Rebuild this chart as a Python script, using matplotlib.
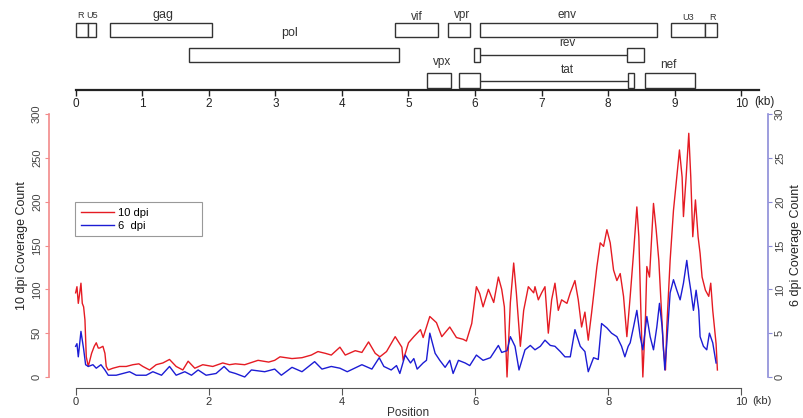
import matplotlib.pyplot as plt
from matplotlib.transforms import blended_transform_factory

plt.rcParams['font.family'] = ['Liberation Sans', 'DejaVu Sans']

red = '#e51b23'
blue = '#1c1cd4'
ink = '#333333'

# genome map: (label, row, exon starts, exon ends) in kb
gene_names = ['R', 'U5', 'gag', 'vif', 'vpr', 'env', 'U3', 'R',
              'pol', 'rev', 'vpx', 'tat', 'nef']
gene_rows = [1, 1, 1, 1, 1, 1, 1, 1, 2, 2, 3, 3, 3]
gene_starts = [[0.00], [0.18], [0.52], [4.80], [5.60], [6.07], [8.95], [9.46],
               [1.70], [5.99, 8.28], [5.28], [5.76, 8.29], [8.55]]
gene_ends = [[0.18], [0.30], [2.05], [5.45], [5.92], [8.73], [9.46], [9.64],
             [4.86], [6.07, 8.54], [5.64], [6.07, 8.39], [9.30]]
label_x = [0.07, 0.25, 1.31, 5.12, 5.80, 7.38, 9.20, 9.56,
           3.22, 7.38, 5.50, 7.38, 8.90]
label_y = [16, 16, 15, 17, 15, 15, 17, 17, 33, 43, 62, 70, 65]
label_size = [6.5, 6.5, 9, 8.5, 8.5, 8.5, 6.5, 6.5, 9, 8.5, 8.5, 8.5, 8.5]

# coverage, 10 dpi (left axis)
pos_10 = [0.00, 0.02, 0.04, 0.06, 0.08, 0.10, 0.12, 0.14, 0.16, 0.19, 0.24, 0.28,
          0.31, 0.34, 0.36, 0.41, 0.44, 0.46, 0.49, 0.56, 0.66, 0.76, 0.86, 0.95,
          1.01, 1.11, 1.21, 1.31, 1.41, 1.51, 1.61, 1.69, 1.79, 1.91, 2.06, 2.21,
          2.31, 2.40, 2.54, 2.74, 2.90, 2.99, 3.07, 3.25, 3.40, 3.54, 3.64, 3.75,
          3.84, 3.97, 4.05, 4.20, 4.30, 4.40, 4.50, 4.57, 4.67, 4.80, 4.85, 4.90,
          4.92, 5.00, 5.08, 5.18, 5.22, 5.32, 5.42, 5.50, 5.62, 5.72, 5.82, 5.87,
          5.95, 6.02, 6.07, 6.12, 6.20, 6.28, 6.35, 6.40, 6.44, 6.48, 6.53, 6.58,
          6.62, 6.68, 6.73, 6.80, 6.88, 6.90, 6.95, 7.00, 7.05, 7.10, 7.15, 7.20,
          7.25, 7.30, 7.38, 7.43, 7.50, 7.55, 7.60, 7.65, 7.70, 7.75, 7.83, 7.88,
          7.93, 7.98, 8.03, 8.08, 8.13, 8.18, 8.23, 8.28, 8.33, 8.38, 8.43, 8.46,
          8.49, 8.52, 8.56, 8.58, 8.62, 8.68, 8.72, 8.76, 8.81, 8.83, 8.86, 8.88,
          8.93, 8.98, 9.03, 9.07, 9.11, 9.13, 9.17, 9.21, 9.24, 9.27, 9.31, 9.35,
          9.38, 9.41, 9.46, 9.51, 9.54, 9.57, 9.62, 9.64]
cov_10 = [96, 103, 84, 95, 107, 84, 80, 65, 23, 12, 27, 35,
          39, 33, 33, 35, 27, 12, 8, 10, 12, 12, 14, 15,
          12, 8, 14, 16, 20, 12, 8, 18, 10, 14, 12, 16,
          14, 15, 14, 19, 17, 19, 23, 21, 22, 25, 29, 27,
          25, 34, 25, 30, 28, 40, 27, 23, 29, 46, 40, 34,
          19, 39, 46, 54, 45, 69, 62, 46, 57, 45, 43, 41,
          61, 103, 95, 80, 100, 85, 114, 100, 80, 0, 85, 130,
          96, 35, 76, 103, 96, 103, 88, 96, 103, 50, 88, 107,
          76, 88, 84, 96, 110, 88, 57, 74, 42, 73, 126, 153,
          149, 168, 153, 122, 110, 118, 92, 46, 92, 141, 194, 160,
          76, 0, 69, 126, 114, 198, 168, 133, 61, 31, 8, 57,
          133, 190, 228, 259, 228, 183, 228, 278, 228, 160, 202, 160,
          141, 114, 99, 92, 107, 76, 38, 8]

# coverage, 6 dpi (right axis)
pos_6 = [0.00, 0.02, 0.04, 0.08, 0.12, 0.15, 0.19, 0.26, 0.31, 0.38, 0.44, 0.49,
         0.61, 0.71, 0.81, 0.91, 1.06, 1.16, 1.29, 1.41, 1.51, 1.64, 1.74, 1.84,
         1.96, 2.11, 2.23, 2.31, 2.40, 2.54, 2.64, 2.84, 2.99, 3.09, 3.25, 3.40,
         3.59, 3.70, 3.84, 3.97, 4.08, 4.30, 4.45, 4.56, 4.63, 4.74, 4.82, 4.87,
         4.95, 5.03, 5.08, 5.13, 5.22, 5.27, 5.32, 5.40, 5.47, 5.55, 5.62, 5.67,
         5.75, 5.85, 5.92, 6.02, 6.12, 6.23, 6.35, 6.40, 6.48, 6.53, 6.60, 6.66,
         6.75, 6.83, 6.90, 6.98, 7.05, 7.13, 7.20, 7.28, 7.35, 7.43, 7.50, 7.58,
         7.65, 7.70, 7.78, 7.85, 7.90, 7.98, 8.05, 8.13, 8.20, 8.25, 8.30, 8.33,
         8.38, 8.43, 8.48, 8.52, 8.58, 8.63, 8.68, 8.73, 8.77, 8.81, 8.85, 8.88,
         8.93, 8.98, 9.03, 9.08, 9.13, 9.18, 9.21, 9.24, 9.28, 9.32, 9.36, 9.38,
         9.43, 9.48, 9.52, 9.57, 9.62]
cov_6 = [3.5, 3.8, 2.3, 5.2, 3.2, 1.4, 1.2, 1.4, 1.0, 1.4, 0.8, 0.2,
         0.2, 0.4, 0.6, 0.2, 0.2, 0.6, 0.2, 1.2, 0.2, 0.6, 0.2, 0.8,
         0.2, 0.4, 1.2, 0.6, 0.4, 0.0, 0.8, 0.6, 0.9, 0.2, 1.1, 0.6,
         1.75, 0.9, 1.2, 1.0, 0.6, 1.4, 0.9, 2.2, 1.2, 0.8, 1.3, 0.4,
         2.5, 1.6, 2.1, 0.9, 1.6, 1.9, 5.0, 2.7, 1.9, 1.1, 1.9, 0.4,
         1.9, 1.6, 1.3, 2.5, 1.9, 2.2, 3.6, 2.8, 3.0, 4.6, 3.5, 0.8,
         3.1, 3.6, 3.1, 3.5, 4.2, 3.6, 3.5, 2.9, 2.3, 2.3, 5.4, 3.5,
         2.9, 0.6, 2.2, 2.0, 6.1, 5.6, 5.0, 4.6, 3.5, 2.3, 3.5, 3.9,
         5.7, 7.6, 4.6, 3.1, 6.9, 4.6, 3.1, 5.7, 8.4, 5.7, 0.8, 3.9,
         9.6, 11.1, 9.9, 8.8, 10.7, 13.3, 11.4, 9.9, 7.6, 9.9, 7.6, 4.6,
         3.5, 3.1, 5.0, 3.9, 1.6]

W, H = 804, 418
fig = plt.figure(figsize=(W / 100, H / 100), dpi=100)


def axes_px(left, top, right, bottom):
    return fig.add_axes([left / W, 1 - bottom / H, (right - left) / W, (bottom - top) / H])


# ---- coverage plot ----
ax = axes_px(49, 103.5, 768, 387.5)
ax.patch.set_visible(False)
ax.set_xlim(-0.4, 10.4)
ax.set_ylim(-12, 312)
l10, = ax.plot(pos_10, cov_10, color=red, lw=1.0)

ax2 = ax.twinx()
ax2.patch.set_visible(False)
ax2.set_ylim(-1.2, 31.2)
l6, = ax2.plot(pos_6, cov_6, color=blue, lw=1.0)

for s in ['top', 'right']:
    ax.spines[s].set_visible(False)
for s in ['top', 'left', 'bottom']:
    ax2.spines[s].set_visible(False)
ax.spines['left'].set_bounds(0, 300)
ax.spines['left'].set_color('#f28a8a')
ax.spines['left'].set_linewidth(1.2)
ax.spines['bottom'].set_bounds(0, 10)
ax.spines['bottom'].set_color('#555555')
ax2.spines['right'].set_bounds(0, 30)
ax2.spines['right'].set_color('#8c8cd8')
ax2.spines['right'].set_linewidth(1.2)

ax.set_xticks([0, 2, 4, 6, 8, 10])
ax.set_xticklabels(['0', '2', '4', '6', '8', '10'])
ax.tick_params(axis='x', length=5, color='#555555', labelsize=8, labelcolor='#333333', pad=2)
ax.set_yticks(range(0, 301, 50))
ax.set_yticklabels([str(v) for v in range(0, 301, 50)], rotation=90, va='center')
ax.tick_params(axis='y', length=3, color='#f28a8a', labelsize=8, labelcolor='#444444', pad=2)
ax2.set_yticks(range(0, 31, 5))
ax2.set_yticklabels([str(v) for v in range(0, 31, 5)], rotation=90, va='center')
ax2.tick_params(axis='y', length=3, color='#8c8cd8', labelsize=8, labelcolor='#444444', pad=2)

ax.set_xlabel('Position', fontsize=8.5, color='#333333', labelpad=0)
ax.set_ylabel('10 dpi Coverage Count', fontsize=9, color='#222222', labelpad=3)
ax2.set_ylabel('6 dpi Coverage Count', fontsize=9, color='#222222', labelpad=4)

ctr = blended_transform_factory(ax.transData, fig.transFigure)
ax.text(10.17, 1 - 401 / H, '(kb)', transform=ctr, ha='left', va='center',
        fontsize=8, color='#333333')

leg = ax.legend([l10, l6], ['10 dpi', '6  dpi'], loc='upper left',
                bbox_to_anchor=(0.0362, 0.523, 0.1766, 0.130), mode='expand',
                borderaxespad=0, fontsize=8, handlelength=3.0, handletextpad=0.4,
                labelspacing=0.3, borderpad=0.5, fancybox=False, framealpha=1)
leg.get_frame().set_edgecolor('#999999')
leg.get_frame().set_linewidth(0.8)

# ---- genome map ----
gax = axes_px(49, 0, 768, 90)
gax.set_xlim(-0.4, 10.4)
gax.set_ylim(90, 0)
gax.patch.set_visible(False)
for s in ['top', 'left', 'right']:
    gax.spines[s].set_visible(False)
gax.spines['bottom'].set_bounds(0, 10.26)
gax.spines['bottom'].set_linewidth(1.6)
gax.spines['bottom'].set_color('#222222')
gax.set_yticks([])
gax.set_xticks(range(11))
gax.set_xticklabels([str(i) for i in range(11)])
gax.tick_params(axis='x', length=4, width=1, color='#222222', labelsize=8.5,
                labelcolor='#222222', pad=2)

row_center = {1: 30, 2: 55, 3: 80.5}
for name, row, starts, ends, lx, ly, fs in zip(gene_names, gene_rows, gene_starts, gene_ends,
                                                label_x, label_y, label_size):
    yc = row_center[row]
    widths = [e - s for s, e in zip(starts, ends)]
    gax.barh([yc] * len(starts), widths, left=starts, height=14.5,
             facecolor='white', edgecolor=ink, linewidth=1.0, zorder=3)
    for k in range(len(starts) - 1):
        gax.plot([ends[k], starts[k + 1]], [yc, yc], color=ink, lw=1.0, zorder=2)
    gax.text(lx, ly, name, ha='center', va='center', fontsize=fs, color=ink)

gtr = blended_transform_factory(gax.transData, fig.transFigure)
gax.text(10.2, 1 - 102 / H, '(kb)', transform=gtr, ha='left', va='center',
         fontsize=8.5, color='#222222')

fig.savefig('out.png', dpi=100)
